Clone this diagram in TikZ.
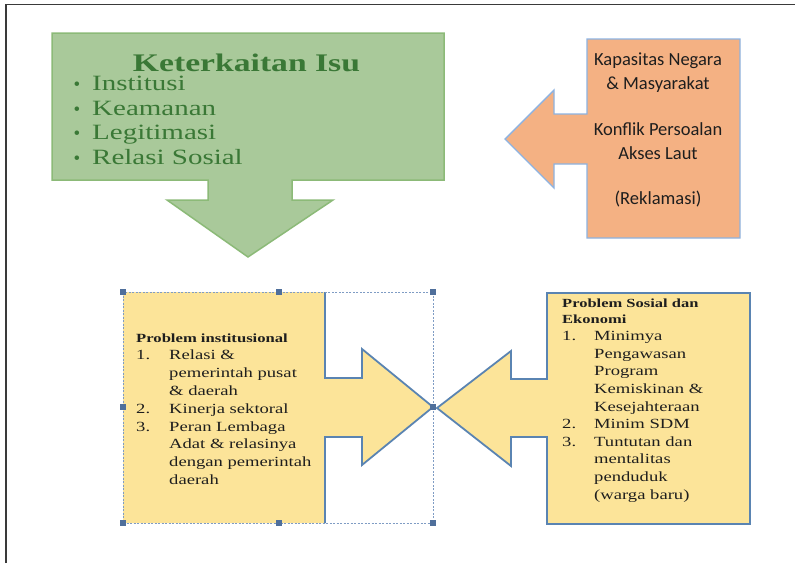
\documentclass[tikz,border=0pt]{standalone}
\usepackage{fontspec}
\setmainfont{Liberation Serif}
\newfontfamily\tnr[FakeStretch=1.33]{Liberation Serif}
\newfontfamily\carl{Carlito}
\definecolor{greenfill}{HTML}{A9C99A}
\definecolor{greenline}{HTML}{8CBA78}
\definecolor{greentext}{HTML}{3A7836}
\definecolor{orangefill}{HTML}{F4B183}
\definecolor{orangeline}{HTML}{8DB3E2}
\definecolor{yellowfill}{HTML}{FCE499}
\definecolor{blueline}{HTML}{5A84B2}
\definecolor{selline}{HTML}{7F9CC4}
\definecolor{handle}{HTML}{4F6F9B}
\definecolor{frame}{HTML}{3A3A3A}
\definecolor{ink}{HTML}{1E1E1E}
\tikzset{
  greenshape/.style={fill=greenfill, draw=greenline, line width=1.5pt, line join=miter},
  orangeshape/.style={fill=orangefill, draw=orangeline, line width=1.4pt, line join=miter},
  yellowshape/.style={fill=yellowfill, draw=blueline, line width=1.8pt, line join=miter},
  selbox/.style={draw=selline, line width=0.8pt, dash pattern=on 2pt off 1.5pt},
  handlebox/.style={fill=handle, draw=none, minimum size=6pt, inner sep=0pt},
  txt/.style={inner sep=0pt, anchor=base west},
  ctxt/.style={inner sep=0pt, anchor=base},
}
\begin{document}
\begin{tikzpicture}[x=1pt, y=-1pt]
\useasboundingbox (0,0) rectangle (795,563);
\fill[white] (0,0) rectangle (795,563);

% page frame (left and top edges)
\draw[frame, line width=1.8pt] (6,563) -- (6,4.5) -- (795,4.5);

% green down-arrow callout
\draw[greenshape] (52,33) -- (444,33) -- (444,180) -- (292,180) -- (292,200)
  -- (333,200) -- (248,257) -- (167,200) -- (208,200) -- (208,180) -- (52,180) -- cycle;

% orange left-arrow callout
\draw[orangeshape] (587,39) -- (740,39) -- (740,238) -- (587,238) -- (587,164)
  -- (554,164) -- (554,188) -- (505,139) -- (554,90) -- (554,114) -- (587,114) -- cycle;

% left yellow right-arrow callout
\fill[yellowfill] (123,292) -- (325,292) -- (325,378) -- (362,378) -- (362,349)
  -- (433,407) -- (362,465) -- (362,437) -- (325,437) -- (325,523) -- (123,523) -- cycle;
\draw[yellowshape, fill=none] (325,292) -- (325,378) -- (362,378) -- (362,349)
  -- (433,407) -- (362,465) -- (362,437) -- (325,437) -- (325,523);

% selection frame with handles
\draw[selbox] (123,292) rectangle (433,523);
\foreach \hx/\hy [count=\i] in {123/292, 279/292, 433/292, 123/407, 433/407, 123/523, 279/523, 433/523}
  \node[handlebox] (h\i) at (\hx,\hy) {};

% right yellow left-arrow callout
\draw[yellowshape] (547,293) -- (750,293) -- (750,524) -- (547,524) -- (547,437)
  -- (511,437) -- (511,466) -- (437,408) -- (511,351) -- (511,379) -- (547,379) -- cycle;

% green texts
\node[ctxt, text=greentext, font=\tnr\bfseries\fontsize{25.3}{30}\selectfont] (isu) at (246.5,71) {Keterkaitan Isu};
\foreach \t/\yy [count=\i] in {Institusi/90, Keamanan/115, Legitimasi/139, Relasi Sosial/164} {
  \node[txt, text=greentext, font=\tnr\fontsize{21.8}{26}\selectfont] (g\i) at (92,\yy) {\t};
  \node[ctxt, text=greentext, font=\fontsize{19}{24}\selectfont] (b\i) at (77,\yy) {\textbullet};
}

% orange texts
\begin{scope}[every node/.style={ctxt, text=ink, font=\carl\fontsize{18.5}{22}\selectfont}]
\node (o1) at (658,65) {Kapasitas Negara};
\node (o2) at (658,89) {\& Masyarakat};
\node (o3) at (658,135) {Konflik Persoalan};
\node (o4) at (658,159) {Akses Laut};
\node (o5) at (658,204) {(Reklamasi)};
\end{scope}

% left box text
\node[txt, text=ink] (inst) at (136,342) {\tnr\fontsize{14}{17.8}\selectfont
\begin{tabular}[t]{@{}p{33pt}@{}l@{}}
\multicolumn{2}{@{}l@{}}{\fontsize{12.5}{17.8}\selectfont\bfseries Problem institusional}\\
1. & Relasi \&\\
   & pemerintah pusat\\
   & \& daerah\\
2. & Kinerja sektoral\\
3. & Peran Lembaga\\
   & Adat \& relasinya\\
   & dengan pemerintah\\
   & daerah
\end{tabular}};

% right box text
\node[txt, text=ink] (sos) at (562,307) {\tnr\fontsize{14}{17.6}\selectfont
\begin{tabular}[t]{@{}p{32pt}@{}l@{}}
\multicolumn{2}{@{}l@{}}{\fontsize{12.4}{16}\selectfont\bfseries Problem Sosial dan}\\[-1.6pt]
\multicolumn{2}{@{}l@{}}{\fontsize{12.4}{16}\selectfont\bfseries Ekonomi}\\
1. & Minimya\\
   & Pengawasan\\
   & Program\\
   & Kemiskinan \&\\
   & Kesejahteraan\\
2. & Minim SDM\\
3. & Tuntutan dan\\
   & mentalitas\\
   & penduduk\\
   & (warga baru)
\end{tabular}};
\end{tikzpicture}
\end{document}
